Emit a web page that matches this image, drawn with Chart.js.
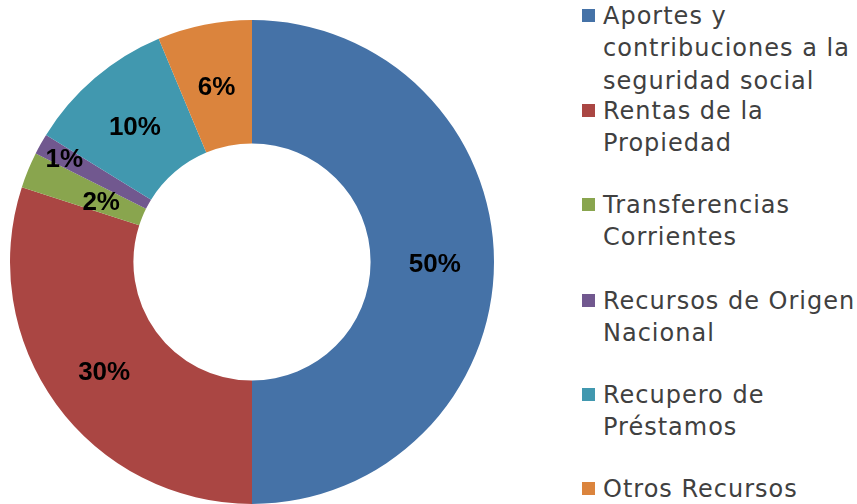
<!DOCTYPE html>
<html>
<head>
<meta charset="utf-8">
<script src="https://cdn.jsdelivr.net/npm/chart.js@4.4.1/dist/chart.umd.min.js"></script>
<style>
  html, body { margin: 0; padding: 0; background: #ffffff; }
  body { width: 857px; height: 504px; position: relative; overflow: hidden; }
  #wrap { position: absolute; left: 0; top: 0; width: 504px; height: 504px; }
  #legend { position: absolute; left: 582px; top: 0; width: 275px; height: 504px;
            font-family: "DejaVu Sans", sans-serif; font-size: 24px; letter-spacing: 1px;
            color: #404040; }
  .item { position: absolute; left: 0; }
  .sw { position: absolute; left: 0; top: 9px; width: 13px; height: 13px; }
  .txt { position: absolute; left: 21px; top: 0; line-height: 32.3px; white-space: nowrap; }
</style>
</head>
<body>
<div id="wrap"><canvas id="c" width="504" height="504"></canvas></div>
<div id="legend"></div>
<script>
// ---- data ----
const categories = [
  ["Aportes y", "contribuciones a la", "seguridad social"],
  ["Rentas de la", "Propiedad"],
  ["Transferencias", "Corrientes"],
  ["Recursos de Origen", "Nacional"],
  ["Recupero de", "Préstamos"],
  ["Otros Recursos"]
];
const values = [50.0, 30.0, 2.4, 1.4, 9.9, 6.3];
const percentLabels = ["50%", "30%", "2%", "1%", "10%", "6%"];
const colors = ["#4572A7", "#AA4643", "#89A54E", "#71588F", "#4198AF", "#DB843D"];

// ---- label plugin ----
const labelPlugin = {
  id: 'sliceLabels',
  afterDatasetsDraw(chart, args, opts) {
    const ctx = chart.ctx;
    const meta = chart.getDatasetMeta(0);
    ctx.save();
    ctx.font = opts.font;
    ctx.fillStyle = opts.color;
    ctx.textAlign = 'center';
    ctx.textBaseline = 'middle';
    meta.data.forEach((arc, i) => {
      const p = arc.getProps(['x', 'y', 'startAngle', 'endAngle', 'innerRadius', 'outerRadius'], true);
      const mid = (p.startAngle + p.endAngle) / 2;
      const f = opts.radial[i];
      const r = p.innerRadius + f * (p.outerRadius - p.innerRadius);
      ctx.fillText(percentLabels[i], p.x + Math.cos(mid) * r, p.y + Math.sin(mid) * r + opts.dy);
    });
    ctx.restore();
  }
};

new Chart(document.getElementById('c'), {
  type: 'doughnut',
  data: {
    labels: categories,
    datasets: [{
      data: values,
      backgroundColor: colors,
      borderWidth: 0
    }]
  },
  options: {
    responsive: false,
    animation: false,
    cutout: '49%',
    layout: { padding: { top: 20, left: 10, right: 10, bottom: 0 } },
    plugins: {
      legend: { display: false },
      tooltip: { enabled: false },
      sliceLabels: {
        font: 'bold 26px "Liberation Sans", Arial, sans-serif',
        color: '#000000',
        radial: [0.52, 0.52, 0.36, 0.78, 0.5, 0.5],
        dy: 3
      }
    }
  },
  plugins: [labelPlugin]
});

// ---- HTML legend built from the same arrays ----
const legend = document.getElementById('legend');
const tops = [0, 94.5, 188.5, 284.5, 378.5, 472.5];
categories.forEach((lines, i) => {
  const item = document.createElement('div');
  item.className = 'item';
  item.style.top = tops[i] + 'px';
  const sw = document.createElement('div');
  sw.className = 'sw';
  sw.style.background = colors[i];
  const txt = document.createElement('div');
  txt.className = 'txt';
  txt.innerHTML = lines.map(l => l.replace(/&/g, '&amp;').replace(/</g, '&lt;')).join('<br>');
  item.appendChild(sw);
  item.appendChild(txt);
  legend.appendChild(item);
});
</script>
</body>
</html>
